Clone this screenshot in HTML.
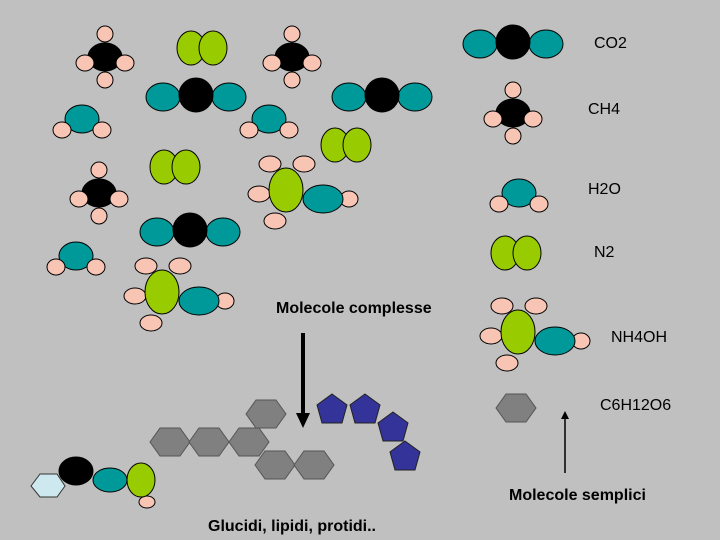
<!DOCTYPE html>
<html><head><meta charset="utf-8"><style>
html,body{margin:0;padding:0;background:#c0c0c0;}
svg{display:block;}
text{font-family:"Liberation Sans",Arial,sans-serif;fill:#000;}
</style></head><body>
<svg width="720" height="540" viewBox="0 0 720 540" xmlns="http://www.w3.org/2000/svg">
<rect width="720" height="540" fill="#c0c0c0"/>
<defs>
<g id="ch4" stroke="#000" stroke-width="1">
 <ellipse cx="0" cy="-23" rx="8" ry="8" fill="#f8c4b4"/>
 <ellipse cx="0" cy="23" rx="8" ry="8" fill="#f8c4b4"/>
 <ellipse cx="0" cy="0" rx="17" ry="14" fill="#000"/>
 <ellipse cx="-20" cy="6" rx="9" ry="8" fill="#f8c4b4"/>
 <ellipse cx="20" cy="6" rx="9" ry="8" fill="#f8c4b4"/>
</g>
<g id="co2" stroke="#000" stroke-width="1">
 <ellipse cx="-33" cy="2" rx="17" ry="14" fill="#009999"/>
 <ellipse cx="33" cy="2" rx="17" ry="14" fill="#009999"/>
 <circle cx="0" cy="0" r="17" fill="#000"/>
</g>
<g id="h2o" stroke="#000" stroke-width="1">
 <ellipse cx="0" cy="0" rx="17" ry="14" fill="#009999"/>
 <ellipse cx="-20" cy="11" rx="9" ry="8" fill="#f8c4b4"/>
 <ellipse cx="20" cy="11" rx="9" ry="8" fill="#f8c4b4"/>
</g>
<g id="n2" stroke="#000" stroke-width="1" fill="#99cc00">
 <ellipse cx="-11" cy="0" rx="14" ry="17"/>
 <ellipse cx="11" cy="0" rx="14" ry="17"/>
</g>
<g id="nh4oh" stroke="#000" stroke-width="1">
 <ellipse cx="-16" cy="-26" rx="11" ry="8" fill="#f8c4b4"/>
 <ellipse cx="18" cy="-26" rx="11" ry="8" fill="#f8c4b4"/>
 <ellipse cx="-27" cy="4" rx="11" ry="8" fill="#f8c4b4"/>
 <ellipse cx="-11" cy="31" rx="11" ry="8" fill="#f8c4b4"/>
 <ellipse cx="63" cy="9" rx="9" ry="8" fill="#f8c4b4"/>
 <ellipse cx="37" cy="9" rx="20" ry="14" fill="#009999"/>
 <ellipse cx="0" cy="0" rx="17" ry="22" fill="#99cc00"/>
</g>
<polygon id="hex" points="-20,0 -10,-14 10,-14 20,0 10,14 -10,14" fill="#808080" stroke="#555" stroke-width="1"/>
<polygon id="pent" points="0,-15 15,-4 10,14 -10,14 -15,-4" fill="#333399" stroke="#222" stroke-width="1"/>
</defs>

<use href="#ch4" x="105" y="57"/>
<use href="#n2" x="202" y="48"/>
<use href="#ch4" x="292" y="57"/>
<use href="#co2" x="196" y="95"/>
<use href="#co2" x="382" y="95"/>
<use href="#h2o" x="82" y="119"/>
<use href="#h2o" x="269" y="119"/>
<use href="#n2" x="346" y="145"/>
<use href="#n2" x="175" y="167"/>
<use href="#ch4" x="99" y="193"/>
<use href="#nh4oh" x="286" y="190"/>
<use href="#co2" x="190" y="230"/>
<use href="#h2o" x="76" y="256"/>
<use href="#nh4oh" x="162" y="292"/>

<use href="#co2" x="513" y="42"/>
<use href="#ch4" x="513" y="113"/>
<use href="#h2o" x="519" y="193"/>
<use href="#n2" x="516" y="253"/>
<use href="#nh4oh" x="518" y="332"/>
<use href="#hex" x="516" y="408"/>

<use href="#hex" x="170" y="442"/>
<use href="#hex" x="209" y="442"/>
<use href="#hex" x="249" y="442"/>
<use href="#hex" x="266" y="414"/>
<use href="#hex" x="275" y="465"/>
<use href="#hex" x="314" y="465"/>
<use href="#pent" x="332" y="409"/>
<use href="#pent" x="365" y="409"/>
<use href="#pent" x="393" y="427"/>
<use href="#pent" x="405" y="456"/>

<polygon points="31,486 40,474 57,474 65,486 57,497 40,497" fill="#cde8ee" stroke="#333" stroke-width="1"/>
<g stroke="#000" stroke-width="1">
 <ellipse cx="147" cy="502" rx="8" ry="6" fill="#f8c4b4"/>
 <ellipse cx="76" cy="471" rx="17" ry="14" fill="#000"/>
 <ellipse cx="110" cy="480" rx="17" ry="12" fill="#009999"/>
 <ellipse cx="141" cy="480" rx="14" ry="17" fill="#99cc00"/>
</g>

<line x1="303" y1="333" x2="303" y2="415" stroke="#000" stroke-width="4"/>
<polygon points="296,413 310,413 303,428" fill="#000"/>
<line x1="565" y1="473" x2="565" y2="418" stroke="#000" stroke-width="1.5"/>
<polygon points="561,419 569,419 565,411" fill="#000"/>

<text x="594" y="48" font-size="16">CO2</text>
<text x="588" y="114" font-size="16">CH4</text>
<text x="588" y="194" font-size="16">H2O</text>
<text x="594" y="257" font-size="16">N2</text>
<text x="611" y="342" font-size="16">NH4OH</text>
<text x="600" y="410" font-size="16">C6H12O6</text>
<text x="276" y="313" font-size="16" font-weight="bold">Molecole complesse</text>
<text x="509" y="500" font-size="16" font-weight="bold">Molecole semplici</text>
<text x="208" y="531" font-size="16" font-weight="bold">Glucidi, lipidi, protidi..</text>
</svg>
</body></html>
